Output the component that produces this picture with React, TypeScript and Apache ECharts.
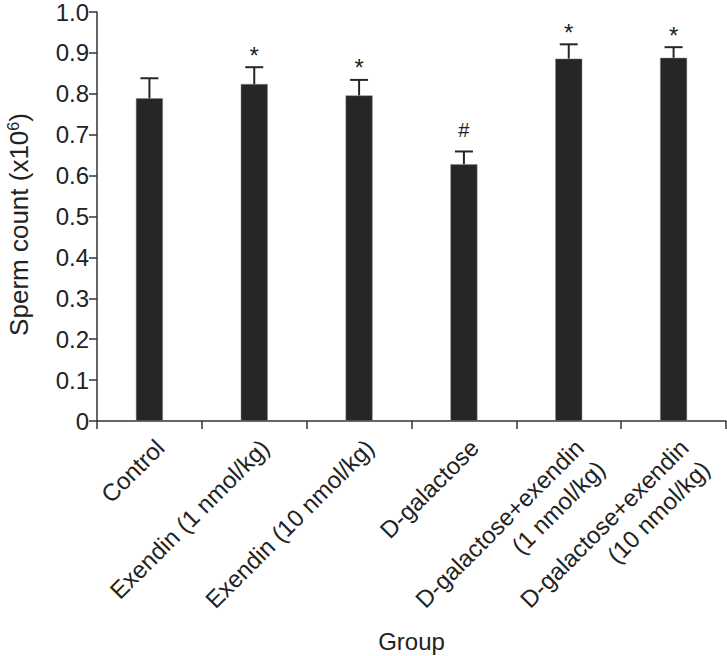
import React, { useEffect, useRef } from "react";
import * as echarts from "echarts";

const categories = [
  "Control",
  "Exendin (1 nmol/kg)",
  "Exendin (10 nmol/kg)",
  "D-galactose",
  "D-galactose+exendin\n(1 nmol/kg)",
  "D-galactose+exendin\n(10 nmol/kg)",
];
const means = [0.789, 0.824, 0.796, 0.628, 0.886, 0.888];
const errors = [0.049, 0.041, 0.038, 0.031, 0.035, 0.026];
const marks = ["", "*", "*", "#", "*", "*"];
const yTicks = ["0", "0.1", "0.2", "0.3", "0.4", "0.5", "0.6", "0.7", "0.8", "0.9", "1.0"];

const FONT = "Liberation Sans, Arial, sans-serif";
const DARK = "#262626";
const AXIS = "#333333";

export default function App() {
  const ref = useRef<HTMLDivElement>(null);
  useEffect(() => {
    if (!ref.current) return;
    const chart = echarts.init(ref.current, undefined, { renderer: "svg" });
    const errData = categories.map((_, i) => [i, means[i], errors[i]]);
    chart.setOption({
      animation: false,
      grid: { left: 97, right: 1, top: 12, bottom: 235, containLabel: false, outerBoundsMode: "none" },
      xAxis: {
        type: "category",
        data: categories,
        axisLine: { lineStyle: { color: AXIS, width: 1.5 } },
        axisTick: { show: true, length: 8, lineStyle: { color: AXIS, width: 1.5 } },
        axisLabel: {
          rotate: 45,
          interval: 0,
          margin: 12,
          fontSize: 24,
          fontFamily: FONT,
          color: "#222",
          lineHeight: 30,
          verticalAlign: "top",
        },
        name: "Group",
        nameLocation: "middle",
        nameGap: 208,
        nameMoveOverlap: false,
        nameTextStyle: { fontSize: 24, fontFamily: FONT, color: "#222", lineHeight: 24 },
      },
      yAxis: {
        type: "value",
        min: 0,
        max: 1,
        interval: 0.1,
        axisLine: { show: true, lineStyle: { color: AXIS, width: 1.5 } },
        axisTick: { show: true, length: 8, lineStyle: { color: AXIS, width: 1.5 } },
        splitLine: { show: false },
        axisLabel: {
          margin: 8,
          fontSize: 24,
          lineHeight: 20,
          fontFamily: FONT,
          color: "#222",
          formatter: (v: number) => yTicks[Math.round(v * 10)],
        },
        name: "Sperm count (x10{sup|6})",
        nameLocation: "middle",
        nameGap: 64,
        nameMoveOverlap: false,
        nameTextStyle: {
          fontSize: 26,
          fontFamily: FONT,
          color: "#222",
          padding: [0, 16, 0, 0],
          rich: { sup: { fontSize: 16, verticalAlign: "top", padding: [0, 0, 12, 0], fontFamily: FONT, color: "#222" } },
        },
      },
      series: [
        {
          type: "bar",
          data: means,
          barWidth: 27,
          itemStyle: { color: DARK, borderColor: "#888", borderWidth: 0.5 },
          z: 2,
        },
        {
          type: "custom",
          data: errData,
          z: 3,
          renderItem: (params: any, api: any) => {
            const i = api.value(0);
            const m = api.value(1);
            const e = api.value(2);
            const mark = marks[i];
            const base = api.coord([i, m]);
            const top = api.coord([i, m + e]);
            const half = 9;
            const children: any[] = [
              { type: "line", shape: { x1: top[0], y1: base[1], x2: top[0], y2: top[1] }, style: { stroke: DARK, lineWidth: 2 } },
              { type: "line", shape: { x1: top[0] - half, y1: top[1], x2: top[0] + half, y2: top[1] }, style: { stroke: DARK, lineWidth: 2 } },
            ];
            if (mark) {
              const off = mark === "#" ? 21 : 12;
              children.push({
                type: "text",
                style: {
                  text: mark,
                  x: top[0],
                  y: top[1] - off,
                  align: "center",
                  verticalAlign: "middle",
                  fontSize: mark === "#" ? 20 : 24,
                  fontFamily: FONT,
                  fill: "#222",
                },
              });
            }
            return { type: "group", children };
          },
        },
      ],
    });
    return () => chart.dispose();
  }, []);
  return (
    <div
      ref={ref}
      style={{ position: "fixed", left: 0, top: 0, width: 727, height: 656, background: "#fff" }}
    />
  );
}
